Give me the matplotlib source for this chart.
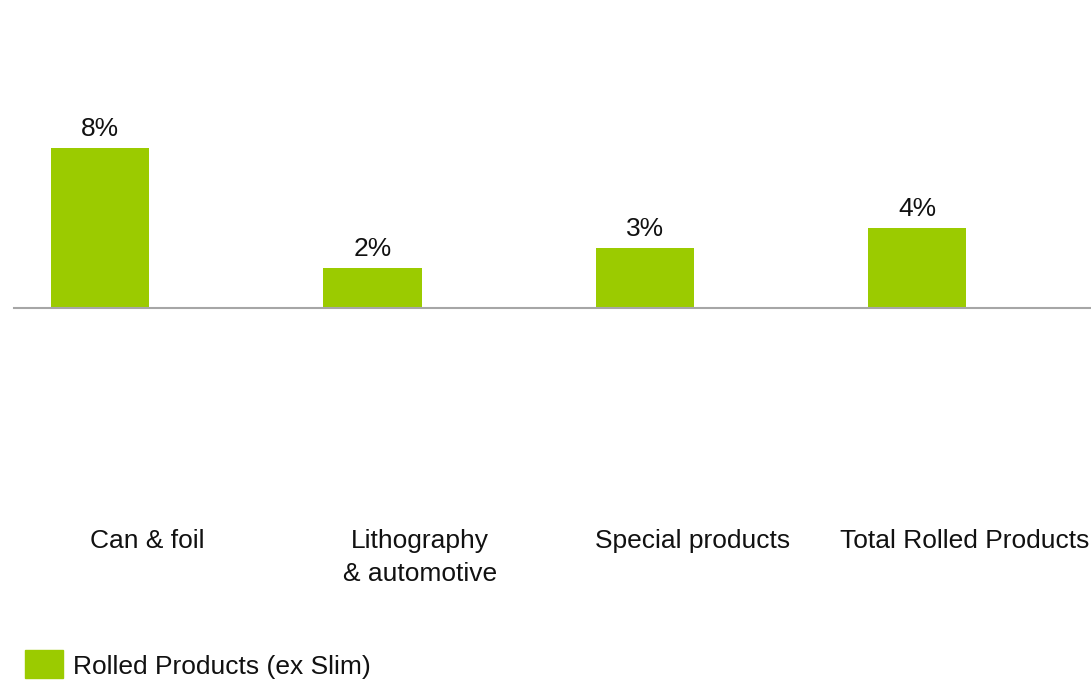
import matplotlib.pyplot as plt

categories = ["Can & foil", "Lithography\n& automotive", "Special products", "Total Rolled Products"]
values = [8, 2, 3, 4]
value_labels = ["8%", "2%", "3%", "4%"]
series_name = "Rolled Products (ex Slim)"

green = "#9BCB00"
plt.rcParams['font.family'] = ['Liberation Sans', 'DejaVu Sans']
fs = 19

fig = plt.figure(figsize=(10.91, 6.81), dpi=100)
ax = fig.add_axes([0, 0, 1, 1])

x = list(range(len(categories)))
ax.bar(x, values, width=0.36, color=green, zorder=2)

for xi, v, lab in zip(x, values, value_labels):
    ax.text(xi, v + 0.6, lab, ha='center', va='baseline', fontsize=fs, color='#111111')

# category labels sit a bit right of the bars, one text per line
for xi, cat in zip(x, categories):
    for j, line in enumerate(cat.split('\n')):
        ax.text(xi + 0.174, -12.02 - j * 1.635, line, ha='center', va='baseline',
                fontsize=fs, color='#111111')

ax.set_xlim(-0.367, 3.637)
ax.set_ylim(-18.65, 15.4)
ax.axhline(0, xmin=14 / 1091, xmax=1, color='#A6A6A6', lw=1.5, zorder=3)
ax.axis('off')

# legend
fig.patches.append(plt.Rectangle((25 / 1091, 1 - 677.5 / 681), 38 / 1091, 27.5 / 681,
                                 transform=fig.transFigure, color=green))
fig.text(73 / 1091, 1 - 674 / 681, series_name, ha='left', va='baseline', fontsize=fs,
         color='#111111')

fig.savefig("out.png", dpi=100)
